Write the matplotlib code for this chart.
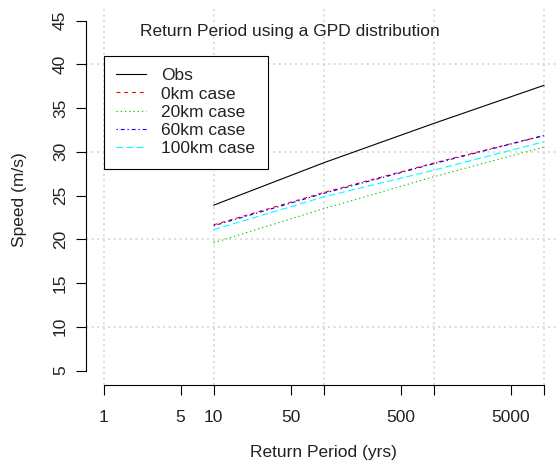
import matplotlib
matplotlib.use("Agg")
import matplotlib.pyplot as plt
from matplotlib.lines import Line2D

plt.rcParams['font.family'] = ['Liberation Sans', 'DejaVu Sans']

# Data
return_period = [10, 100, 1000, 10000]
obs = [23.9, 28.75, 33.25, 37.6]
case_0km = [21.65, 25.35, 28.72, 31.88]
case_20km = [19.6, 23.5, 27.15, 30.55]
case_60km = [21.55, 25.25, 28.65, 31.85]
case_100km = [21.1, 24.85, 27.9, 31.15]

series_labels = ['Obs', '0km case', '20km case', '60km case', '100km case']
series_values = [obs, case_0km, case_20km, case_60km, case_100km]
series_colors = ['black', '#ff0000', '#00cd00', '#0000ff', '#00ffff']
series_styles = ['-', (0, (3.5, 3.5)), (0, (1.2, 2.6)), (0, (1.2, 2.6, 3.5, 2.6)), (0, (6, 3))]

xticks = [1, 5, 10, 50, 100, 500, 1000, 5000, 10000]
xticklabels = ['1', '5', '10', '50', '', '500', '', '5000', '']
yticks = [5, 10, 15, 20, 25, 30, 35, 40, 45]
grid_x = [1, 10, 100, 1000, 10000]
grid_y = [10, 20, 30, 40]

W, H = 559, 465
fig = plt.figure(figsize=(W / 100, H / 100), dpi=100)
left, right, bottom, top = 86, 561.6, 384.5, 6.6
ax = fig.add_axes([left / W, 1 - bottom / H, (right - left) / W, (bottom - top) / H])
ax.set_xscale('log')
ax.set_xlim(10 ** -0.16, 10 ** 4.16)
ax.set_ylim(3.4, 46.6)

fs = 12.5
grid_style = dict(color='#d3d3d3', lw=1.1, linestyle=(0, (1.4, 2.2)), zorder=0)
for gx in grid_x:
    ax.axvline(gx, **grid_style)
for gy in grid_y:
    ax.axhline(gy, **grid_style)

for vals, lab, col, ls in zip(series_values, series_labels, series_colors, series_styles):
    ax.plot(return_period, vals, color=col, linestyle=ls, lw=0.8, label=lab)

for s in ['top', 'right']:
    ax.spines[s].set_visible(False)
ax.spines['left'].set_bounds(5, 45)
ax.spines['bottom'].set_bounds(1, 10000)
for s in ['left', 'bottom']:
    ax.spines[s].set_linewidth(0.8)

ax.set_xticks(xticks)
ax.set_xticklabels(xticklabels)
ax.xaxis.set_minor_locator(matplotlib.ticker.NullLocator())
ax.set_yticks(yticks)
ax.set_yticklabels([str(v) for v in yticks], rotation=90, va='center')
ax.tick_params(axis='both', direction='out', length=7, width=0.8, labelsize=fs, colors='black')
ax.tick_params(axis='x', pad=11)
ax.tick_params(axis='y', pad=6)
for t in ax.get_xticklabels() + ax.get_yticklabels():
    t.set_color('#222222')

ax.set_xlabel('Return Period (yrs)', fontsize=fs, color='#222222', va='center')
ax.set_ylabel('Speed (m/s)', fontsize=fs, color='#222222', va='center')
ax.xaxis.set_label_coords(0.5, -(452 - bottom) / (bottom - top), transform=ax.transAxes)
ax.yaxis.set_label_coords((20 - left) / (right - left), (bottom - 200) / (bottom - top), transform=ax.transAxes)

ax.text(49, 43.8, 'Return Period using a GPD distribution', fontsize=fs, ha='center', va='center', color='#222222')

handles = [Line2D([0], [0], color=c, linestyle=l, lw=0.8) for c, l in zip(series_colors, series_styles)]
leg = ax.legend(handles, series_labels, loc='upper left', bbox_to_anchor=(1, 41),
                bbox_transform=ax.transData, fontsize=fs, frameon=True, fancybox=False,
                borderpad=0.72, handlelength=1.75, handletextpad=0.85, labelspacing=0.18,
                borderaxespad=0)
leg.get_frame().set_edgecolor('black')
leg.get_frame().set_linewidth(0.8)
leg.get_frame().set_facecolor('white')
leg.get_frame().set_alpha(1)
for t in leg.get_texts():
    t.set_color('#222222')

fig.savefig('out.png', dpi=100)
